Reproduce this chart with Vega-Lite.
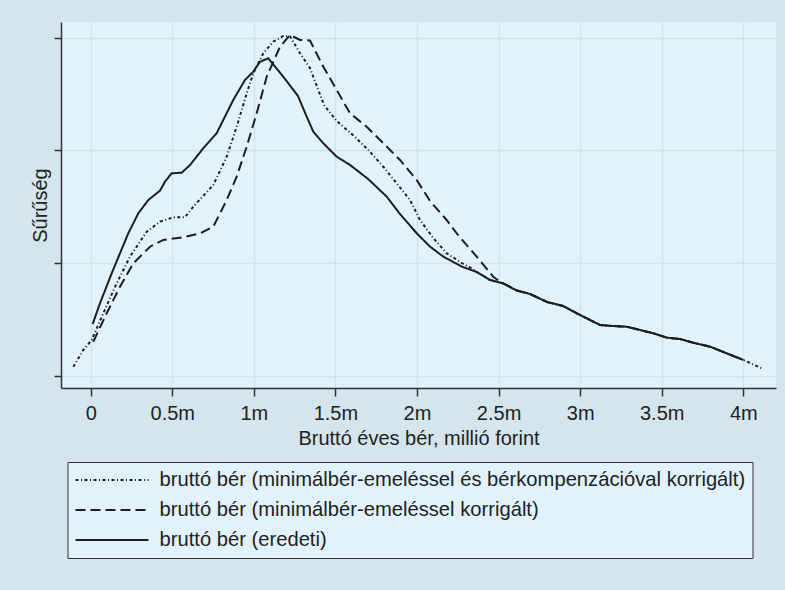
{
  "$schema": "https://vega.github.io/schema/vega-lite/v6.json",
  "autosize": "none",
  "width": 715,
  "height": 366,
  "padding": {"left": 61, "top": 22, "right": 9, "bottom": 202},
  "background": "#d5e5ee",
  "config": {
    "font": "Liberation Sans",
    "view": {"fill": "#e1f2fc", "stroke": null},
    "axis": {
      "labelFont": "Liberation Sans",
      "titleFont": "Liberation Sans",
      "labelFontSize": 20,
      "titleFontSize": 20,
      "labelColor": "#222222",
      "titleColor": "#222222",
      "titleFontWeight": "normal",
      "domainColor": "#333333",
      "domainWidth": 1.5,
      "tickColor": "#333333",
      "tickWidth": 1.5,
      "gridColor": "#d3e3ec",
      "gridWidth": 1.6,
      "gridOpacity": 1
    },
    "legend": {
      "labelFont": "Liberation Sans",
      "labelFontSize": 20.2,
      "labelColor": "#222222"
    }
  },
  "data": {
    "values": [
      {"sorozat": "A", "ber": -0.1066, "suruseg": 0.082},
      {"sorozat": "A", "ber": -0.0454, "suruseg": 0.231},
      {"sorozat": "A", "ber": 0.0061, "suruseg": 0.319},
      {"sorozat": "A", "ber": 0.0772, "suruseg": 0.556},
      {"sorozat": "A", "ber": 0.1594, "suruseg": 0.822},
      {"sorozat": "A", "ber": 0.2409, "suruseg": 1.058},
      {"sorozat": "A", "ber": 0.3432, "suruseg": 1.279},
      {"sorozat": "A", "ber": 0.4248, "suruseg": 1.368},
      {"sorozat": "A", "ber": 0.5063, "suruseg": 1.407},
      {"sorozat": "A", "ber": 0.578, "suruseg": 1.407},
      {"sorozat": "A", "ber": 0.6289, "suruseg": 1.501},
      {"sorozat": "A", "ber": 0.7515, "suruseg": 1.693},
      {"sorozat": "A", "ber": 0.8336, "suruseg": 1.944},
      {"sorozat": "A", "ber": 0.8949, "suruseg": 2.21},
      {"sorozat": "A", "ber": 0.9562, "suruseg": 2.506},
      {"sorozat": "A", "ber": 0.9966, "suruseg": 2.684},
      {"sorozat": "A", "ber": 1.0579, "suruseg": 2.861},
      {"sorozat": "A", "ber": 1.1192, "suruseg": 2.964},
      {"sorozat": "A", "ber": 1.1805, "suruseg": 3.014},
      {"sorozat": "A", "ber": 1.2216, "suruseg": 3.01},
      {"sorozat": "A", "ber": 1.2829, "suruseg": 2.861},
      {"sorozat": "A", "ber": 1.3441, "suruseg": 2.73},
      {"sorozat": "A", "ber": 1.43, "suruseg": 2.402},
      {"sorozat": "A", "ber": 1.5078, "suruseg": 2.261},
      {"sorozat": "A", "ber": 1.62, "suruseg": 2.119},
      {"sorozat": "A", "ber": 1.7119, "suruseg": 1.988},
      {"sorozat": "A", "ber": 1.7935, "suruseg": 1.855},
      {"sorozat": "A", "ber": 1.8756, "suruseg": 1.708},
      {"sorozat": "A", "ber": 1.9571, "suruseg": 1.56},
      {"sorozat": "A", "ber": 2.0184, "suruseg": 1.383},
      {"sorozat": "A", "ber": 2.0999, "suruseg": 1.223},
      {"sorozat": "A", "ber": 2.182, "suruseg": 1.088},
      {"sorozat": "A", "ber": 2.2838, "suruseg": 0.993},
      {"sorozat": "A", "ber": 2.3371, "suruseg": 0.953},
      {"sorozat": "A", "ber": 2.3659, "suruseg": 0.922},
      {"sorozat": "A", "ber": 2.4474, "suruseg": 0.851},
      {"sorozat": "A", "ber": 2.529, "suruseg": 0.82},
      {"sorozat": "A", "ber": 2.6111, "suruseg": 0.758},
      {"sorozat": "A", "ber": 2.6926, "suruseg": 0.727},
      {"sorozat": "A", "ber": 2.7968, "suruseg": 0.656},
      {"sorozat": "A", "ber": 2.8949, "suruseg": 0.621},
      {"sorozat": "A", "ber": 2.9991, "suruseg": 0.541},
      {"sorozat": "A", "ber": 3.1217, "suruseg": 0.452},
      {"sorozat": "A", "ber": 3.2032, "suruseg": 0.443},
      {"sorozat": "A", "ber": 3.2853, "suruseg": 0.437},
      {"sorozat": "A", "ber": 3.3668, "suruseg": 0.408},
      {"sorozat": "A", "ber": 3.4484, "suruseg": 0.379},
      {"sorozat": "A", "ber": 3.5305, "suruseg": 0.34},
      {"sorozat": "A", "ber": 3.612, "suruseg": 0.328},
      {"sorozat": "A", "ber": 3.6935, "suruseg": 0.295},
      {"sorozat": "A", "ber": 3.7957, "suruseg": 0.26},
      {"sorozat": "A", "ber": 3.8983, "suruseg": 0.201},
      {"sorozat": "A", "ber": 4.0, "suruseg": 0.142},
      {"sorozat": "A", "ber": 4.1128, "suruseg": 0.068},

      {"sorozat": "B", "ber": 0.0159, "suruseg": 0.304},
      {"sorozat": "B", "ber": 0.0981, "suruseg": 0.556},
      {"sorozat": "B", "ber": 0.1796, "suruseg": 0.792},
      {"sorozat": "B", "ber": 0.2611, "suruseg": 0.999},
      {"sorozat": "B", "ber": 0.3634, "suruseg": 1.146},
      {"sorozat": "B", "ber": 0.445, "suruseg": 1.206},
      {"sorozat": "B", "ber": 0.5676, "suruseg": 1.23},
      {"sorozat": "B", "ber": 0.6699, "suruseg": 1.265},
      {"sorozat": "B", "ber": 0.7515, "suruseg": 1.324},
      {"sorozat": "B", "ber": 0.8336, "suruseg": 1.56},
      {"sorozat": "B", "ber": 0.8949, "suruseg": 1.767},
      {"sorozat": "B", "ber": 0.9562, "suruseg": 2.033},
      {"sorozat": "B", "ber": 1.0175, "suruseg": 2.329},
      {"sorozat": "B", "ber": 1.0788, "suruseg": 2.653},
      {"sorozat": "B", "ber": 1.1603, "suruseg": 2.919},
      {"sorozat": "B", "ber": 1.2216, "suruseg": 3.023},
      {"sorozat": "B", "ber": 1.2829, "suruseg": 2.979},
      {"sorozat": "B", "ber": 1.3441, "suruseg": 2.974},
      {"sorozat": "B", "ber": 1.4257, "suruseg": 2.742},
      {"sorozat": "B", "ber": 1.5078, "suruseg": 2.535},
      {"sorozat": "B", "ber": 1.5893, "suruseg": 2.329},
      {"sorozat": "B", "ber": 1.6917, "suruseg": 2.21},
      {"sorozat": "B", "ber": 1.7935, "suruseg": 2.063},
      {"sorozat": "B", "ber": 1.8958, "suruseg": 1.915},
      {"sorozat": "B", "ber": 1.9982, "suruseg": 1.738},
      {"sorozat": "B", "ber": 2.0797, "suruseg": 1.551},
      {"sorozat": "B", "ber": 2.182, "suruseg": 1.383},
      {"sorozat": "B", "ber": 2.2513, "suruseg": 1.25},
      {"sorozat": "B", "ber": 2.3659, "suruseg": 1.058},
      {"sorozat": "B", "ber": 2.4676, "suruseg": 0.88},
      {"sorozat": "B", "ber": 2.5087, "suruseg": 0.836},
      {"sorozat": "B", "ber": 2.529, "suruseg": 0.82},
      {"sorozat": "B", "ber": 2.6111, "suruseg": 0.758},
      {"sorozat": "B", "ber": 2.6926, "suruseg": 0.727},
      {"sorozat": "B", "ber": 2.7968, "suruseg": 0.656},
      {"sorozat": "B", "ber": 2.8949, "suruseg": 0.621},
      {"sorozat": "B", "ber": 2.9991, "suruseg": 0.541},
      {"sorozat": "B", "ber": 3.1217, "suruseg": 0.452},
      {"sorozat": "B", "ber": 3.2032, "suruseg": 0.443},
      {"sorozat": "B", "ber": 3.2853, "suruseg": 0.437},
      {"sorozat": "B", "ber": 3.3668, "suruseg": 0.408},
      {"sorozat": "B", "ber": 3.4484, "suruseg": 0.379},
      {"sorozat": "B", "ber": 3.5305, "suruseg": 0.34},
      {"sorozat": "B", "ber": 3.612, "suruseg": 0.328},
      {"sorozat": "B", "ber": 3.6935, "suruseg": 0.295},
      {"sorozat": "B", "ber": 3.7957, "suruseg": 0.26},
      {"sorozat": "B", "ber": 3.8983, "suruseg": 0.201},
      {"sorozat": "B", "ber": 4.0, "suruseg": 0.142},

      {"sorozat": "C", "ber": 0.0123, "suruseg": 0.461},
      {"sorozat": "C", "ber": 0.057, "suruseg": 0.645},
      {"sorozat": "C", "ber": 0.1287, "suruseg": 0.91},
      {"sorozat": "C", "ber": 0.1796, "suruseg": 1.088},
      {"sorozat": "C", "ber": 0.2305, "suruseg": 1.265},
      {"sorozat": "C", "ber": 0.2918, "suruseg": 1.442},
      {"sorozat": "C", "ber": 0.353, "suruseg": 1.56},
      {"sorozat": "C", "ber": 0.4248, "suruseg": 1.643},
      {"sorozat": "C", "ber": 0.4554, "suruseg": 1.723},
      {"sorozat": "C", "ber": 0.4965, "suruseg": 1.797},
      {"sorozat": "C", "ber": 0.5578, "suruseg": 1.802},
      {"sorozat": "C", "ber": 0.6086, "suruseg": 1.87},
      {"sorozat": "C", "ber": 0.6902, "suruseg": 2.019},
      {"sorozat": "C", "ber": 0.7723, "suruseg": 2.152},
      {"sorozat": "C", "ber": 0.8127, "suruseg": 2.27},
      {"sorozat": "C", "ber": 0.874, "suruseg": 2.447},
      {"sorozat": "C", "ber": 0.9457, "suruseg": 2.624},
      {"sorozat": "C", "ber": 0.9966, "suruseg": 2.698},
      {"sorozat": "C", "ber": 1.0377, "suruseg": 2.786},
      {"sorozat": "C", "ber": 1.0886, "suruseg": 2.816},
      {"sorozat": "C", "ber": 1.1805, "suruseg": 2.653},
      {"sorozat": "C", "ber": 1.2706, "suruseg": 2.482},
      {"sorozat": "C", "ber": 1.3239, "suruseg": 2.299},
      {"sorozat": "C", "ber": 1.3644, "suruseg": 2.166},
      {"sorozat": "C", "ber": 1.4257, "suruseg": 2.063},
      {"sorozat": "C", "ber": 1.5078, "suruseg": 1.944},
      {"sorozat": "C", "ber": 1.5893, "suruseg": 1.871},
      {"sorozat": "C", "ber": 1.6996, "suruseg": 1.747},
      {"sorozat": "C", "ber": 1.8143, "suruseg": 1.59},
      {"sorozat": "C", "ber": 1.8958, "suruseg": 1.436},
      {"sorozat": "C", "ber": 1.9982, "suruseg": 1.265},
      {"sorozat": "C", "ber": 2.0797, "suruseg": 1.147},
      {"sorozat": "C", "ber": 2.1612, "suruseg": 1.058},
      {"sorozat": "C", "ber": 2.2758, "suruseg": 0.969},
      {"sorozat": "C", "ber": 2.3659, "suruseg": 0.922},
      {"sorozat": "C", "ber": 2.4474, "suruseg": 0.851},
      {"sorozat": "C", "ber": 2.529, "suruseg": 0.82},
      {"sorozat": "C", "ber": 2.6111, "suruseg": 0.758},
      {"sorozat": "C", "ber": 2.6926, "suruseg": 0.727},
      {"sorozat": "C", "ber": 2.7968, "suruseg": 0.656},
      {"sorozat": "C", "ber": 2.8949, "suruseg": 0.621},
      {"sorozat": "C", "ber": 2.9991, "suruseg": 0.541},
      {"sorozat": "C", "ber": 3.1217, "suruseg": 0.452},
      {"sorozat": "C", "ber": 3.2032, "suruseg": 0.443},
      {"sorozat": "C", "ber": 3.2853, "suruseg": 0.437},
      {"sorozat": "C", "ber": 3.3668, "suruseg": 0.408},
      {"sorozat": "C", "ber": 3.4484, "suruseg": 0.379},
      {"sorozat": "C", "ber": 3.5305, "suruseg": 0.34},
      {"sorozat": "C", "ber": 3.612, "suruseg": 0.328},
      {"sorozat": "C", "ber": 3.6935, "suruseg": 0.295},
      {"sorozat": "C", "ber": 3.7957, "suruseg": 0.26},
      {"sorozat": "C", "ber": 3.8983, "suruseg": 0.201},
      {"sorozat": "C", "ber": 4.0, "suruseg": 0.142}
    ]
  },
  "mark": {"type": "line", "color": "#1e1e1e", "strokeWidth": 2, "clip": true},
  "encoding": {
    "x": {
      "field": "ber",
      "type": "quantitative",
      "scale": {"domain": [-0.182, 4.2004], "nice": false, "zero": false},
      "axis": {
        "values": [0, 0.5, 1, 1.5, 2, 2.5, 3, 3.5, 4],
        "labelExpr": "datum.value == 0 ? '0' : datum.value + 'm'",
        "title": "Bruttó éves bér, millió forint",
        "tickSize": 8,
        "labelPadding": 7,
        "titlePadding": 5,
        "labelFlush": false
      }
    },
    "y": {
      "field": "suruseg",
      "type": "quantitative",
      "scale": {"domain": [-0.1064, 3.138], "nice": false, "zero": false},
      "axis": {
        "values": [0, 1, 2, 3],
        "labels": false,
        "title": "Sűrűség",
        "tickSize": 7,
        "titlePadding": 3
      }
    },
    "strokeDash": {
      "field": "sorozat",
      "type": "nominal",
      "scale": {
        "domain": ["A", "B", "C"],
        "range": [[3, 2.5, 1, 2.5], [10, 5], [1, 0]]
      },
      "legend": {
        "title": null,
        "orient": "none",
        "legendX": 6.5,
        "legendY": 440,
        "direction": "vertical",
        "fillColor": "#e1f2fc",
        "strokeColor": "#333333",
        "padding": 7,
        "rowPadding": 8,
        "symbolType": "M-1,0H6.3",
        "symbolSize": 400,
        "symbolStrokeWidth": 2,
        "symbolStrokeColor": "#1e1e1e",
        "symbolFillColor": "transparent",
        "labelOffset": 63,
        "labelLimit": 800,
        "labelExpr": "datum.value == 'A' ? 'bruttó bér (minimálbér-emeléssel és bérkompenzációval korrigált)' : datum.value == 'B' ? 'bruttó bér (minimálbér-emeléssel korrigált)' : 'bruttó bér (eredeti)'"
      }
    }
  }
}
